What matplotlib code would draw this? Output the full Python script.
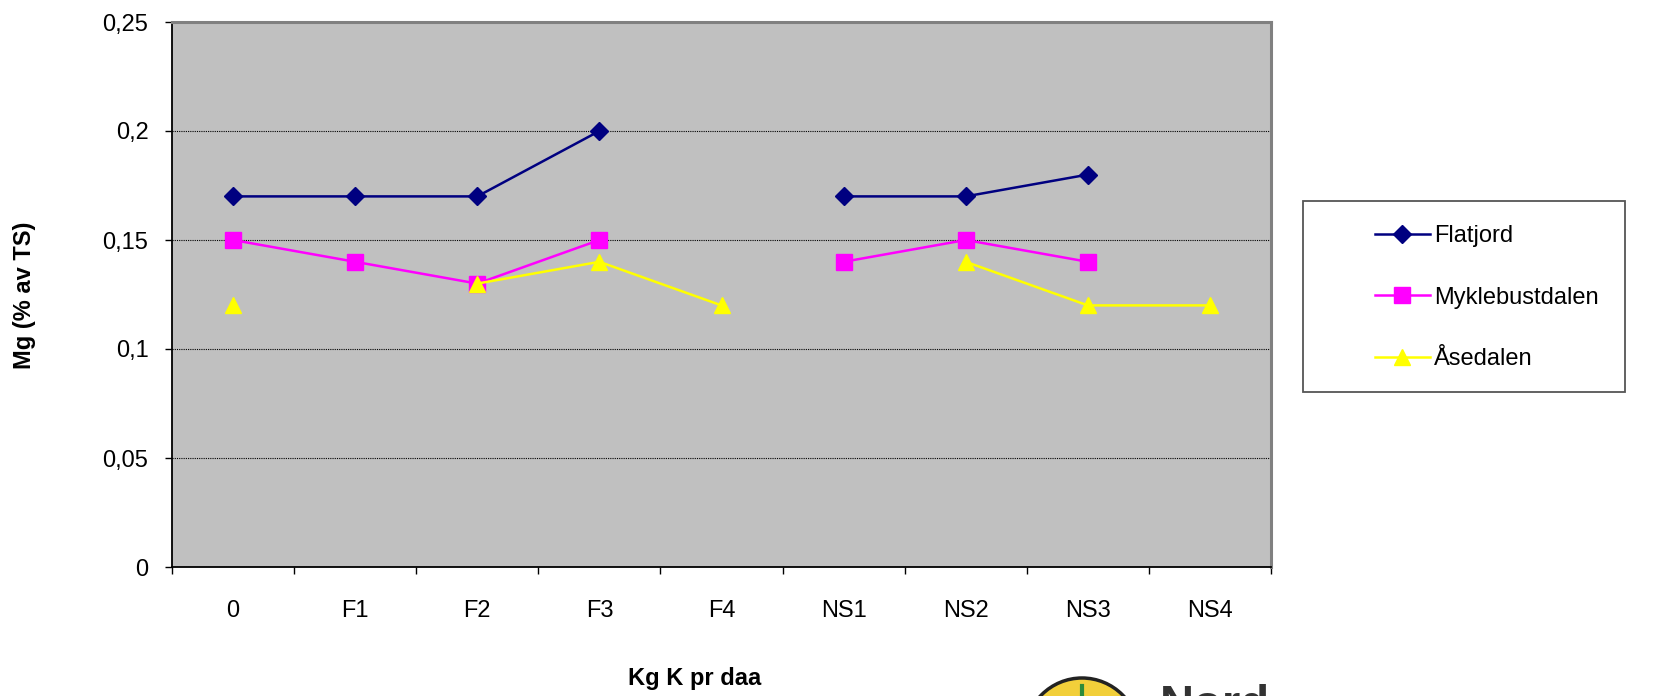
import numpy as np
import matplotlib
matplotlib.use("Agg")
import matplotlib.pyplot as plt
from matplotlib.patches import Rectangle, Ellipse
from matplotlib.lines import Line2D

plt.rcParams['font.family'] = ['Liberation Sans', 'DejaVu Sans']

categories = ["0", "F1", "F2", "F3", "F4", "NS1", "NS2", "NS3", "NS4"]
flatjord = [0.17, 0.17, 0.17, 0.20, np.nan, 0.17, 0.17, 0.18, np.nan]
myklebustdalen = [0.15, 0.14, 0.13, 0.15, np.nan, 0.14, 0.15, 0.14, np.nan]
asedalen = [0.12, np.nan, 0.13, 0.14, 0.12, np.nan, 0.14, 0.12, 0.12]
y_ticks = [0, 0.05, 0.1, 0.15, 0.2, 0.25]
y_ticklabels = ["0", "0,05", "0,1", "0,15", "0,2", "0,25"]

W, H = 1655, 696
fs = 17
fig = plt.figure(figsize=(W / 100, H / 100), dpi=100)
ax = fig.add_axes([172 / W, 1 - 567 / H, (1271 - 172) / W, (567 - 22) / H])
ax.set_facecolor("#c0c0c0")

x = np.arange(len(categories))
series = [
    ("Flatjord", flatjord, "#000080", "D", 9),
    ("Myklebustdalen", myklebustdalen, "#ff00ff", "s", 11),
    ("Åsedalen", asedalen, "#ffff00", "^", 11),
]
handles = []
for name, vals, col, mk, ms in series:
    h, = ax.plot(x, vals, color=col, lw=1.8, marker=mk, ms=ms, mec=col, mfc=col,
                 zorder=3, label=name)
    handles.append(h)

ax.set_xlim(-0.5, len(categories) - 0.5)
ax.set_ylim(0, 0.25)
ax.set_yticks(y_ticks)
ax.set_yticklabels(y_ticklabels)
ax.set_xticks(x)
ax.set_xticklabels(categories)
ax.set_xticks(np.arange(len(categories) + 1) - 0.5, minor=True)
ax.tick_params(axis="x", which="major", length=0, pad=24, labelsize=fs)
ax.tick_params(axis="x", which="minor", length=5, width=1, direction="out")
ax.tick_params(axis="y", length=5, width=1, pad=12, labelsize=fs)

ax.yaxis.grid(True, color="black", linestyle=(0, (1, 1)), lw=0.8)
ax.set_axisbelow(True)

for s in ["top", "right"]:
    ax.spines[s].set_color("#808080")
    ax.spines[s].set_linewidth(2.2)
for s in ["left", "bottom"]:
    ax.spines[s].set_color("black")
    ax.spines[s].set_linewidth(1.3)

fig.text(25 / W, 1 - 295 / H, "Mg (% av TS)", rotation=90, ha="center", va="center",
         fontsize=fs, fontweight="bold")
fig.text(695 / W, 1 - 679 / H, "Kg K pr daa", ha="center", va="center",
         fontsize=fs, fontweight="bold")

# legend box
fig.patches.append(Rectangle((1303 / W, 1 - 392 / H), (1625 - 1303) / W, (392 - 201) / H,
                             transform=fig.transFigure, fill=False, ec="#555555", lw=1.3))
fig.legend(handles=handles, loc="upper left", bbox_to_anchor=(1354 / W, 1 - 204 / H),
           frameon=False, fontsize=fs, handlelength=2.3, handletextpad=0.2,
           labelspacing=1.67)

# logo (cut off at the bottom)
fig.patches.append(Ellipse((1082 / W, 1 - 735 / H), 114 / W, 114 / H, transform=fig.transFigure,
                           fc="#f2cf3a", ec="#222222", lw=2.5))
fig.lines.append(Line2D([1082 / W, 1082 / W], [1 - 686 / H, 0], transform=fig.transFigure,
                        color="#2e8b3a", lw=3))
fig.text(1160 / W, 1 - 684 / H, "Nord", ha="left", va="top", fontsize=34,
         fontweight="bold", color="#333333")

fig.savefig("out.png", dpi=100)
